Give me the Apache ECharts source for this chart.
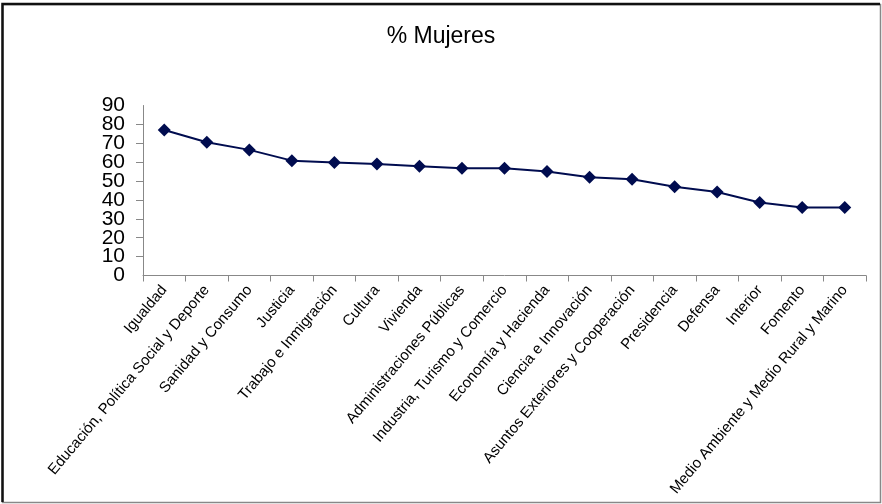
<!DOCTYPE html>
<html>
<head>
<meta charset="utf-8">
<script src="https://cdn.jsdelivr.net/npm/echarts@6/dist/echarts.min.js"></script>
<style>
  html, body { margin: 0; padding: 0; background: #fff; }
  #chart { width: 882px; height: 504px; }
</style>
</head>
<body>
<div id="chart"></div>
<script>
// Share of women by ministry
const ministerios = [
  'Igualdad',
  'Educación, Política Social y Deporte',
  'Sanidad y Consumo',
  'Justicia',
  'Trabajo e Inmigración',
  'Cultura',
  'Vivienda',
  'Administraciones Públicas',
  'Industria, Turismo y Comercio',
  'Economía y Hacienda',
  'Ciencia e Innovación',
  'Asuntos Exteriores y Cooperación',
  'Presidencia',
  'Defensa',
  'Interior',
  'Fomento',
  'Medio Ambiente y Medio Rural y Marino'
];
const pctMujeres = [77, 70.5, 66.5, 60.8, 59.8, 59, 57.9, 56.8, 56.8, 55, 52, 51, 47, 44.2, 38.6, 36, 36];
const yTicks = { min: 0, max: 90, step: 10 };

const yLabelStyle = {
  margin: 18,
  fontFamily: 'Liberation Sans',
  fontSize: 21,
  color: '#000'
};

const chart = echarts.init(document.getElementById('chart'));
chart.setOption({
  backgroundColor: '#fff',
  animation: false,
  title: {
    text: '% Mujeres',
    left: 'center',
    top: 20,
    textStyle: { fontFamily: 'Liberation Sans', fontSize: 23, fontWeight: 'normal', color: '#000' }
  },
  graphic: [
    { type: 'rect', shape: { x: 2.5, y: 4.5, width: 878, height: 498 },
      style: { fill: 'none', stroke: '#888', lineWidth: 1.5 } },
    { type: 'polyline', shape: { points: [[2.5, 502], [2.5, 4], [880, 4]] },
      style: { fill: 'none', stroke: '#111', lineWidth: 2.5 } }
  ],
  grid: { left: 143, right: 16, top: 105.5, bottom: 228.5, containLabel: false },
  xAxis: {
    type: 'category',
    data: ministerios,
    boundaryGap: true,
    axisLine: { lineStyle: { color: '#888', width: 1 } },
    axisTick: { show: true, length: 6, lineStyle: { color: '#888' } },
    axisLabel: {
      rotate: 50,
      interval: 0,
      margin: 12,
      hideOverlap: false,
      fontFamily: 'Liberation Sans',
      fontSize: 15,
      color: '#000'
    }
  },
  yAxis: [
    {
      // main scale: line, ticks and the inner labels 10..80
      type: 'value',
      position: 'left',
      min: yTicks.min,
      max: yTicks.max,
      interval: yTicks.step,
      axisLine: { show: true, lineStyle: { color: '#888', width: 1 } },
      axisTick: { show: true, length: 7, lineStyle: { color: '#888' } },
      splitLine: { show: false },
      axisLabel: Object.assign({ showMinLabel: false, showMaxLabel: false }, yLabelStyle)
    },
    {
      // same scale, carrying only the end labels 0 and 90
      type: 'value',
      position: 'left',
      min: yTicks.min,
      max: yTicks.max,
      interval: yTicks.step,
      axisLine: { show: false },
      axisTick: { show: false },
      splitLine: { show: false },
      axisLabel: Object.assign({
        showMinLabel: true,
        showMaxLabel: true,
        formatter: v => (v === yTicks.min || v === yTicks.max) ? String(v) : ''
      }, yLabelStyle)
    }
  ],
  series: [{
    type: 'line',
    yAxisIndex: 0,
    data: pctMujeres,
    symbol: 'diamond',
    symbolSize: 13,
    lineStyle: { color: '#000c4f', width: 2 },
    itemStyle: { color: '#000c4f' }
  }]
});
</script>
</body>
</html>
